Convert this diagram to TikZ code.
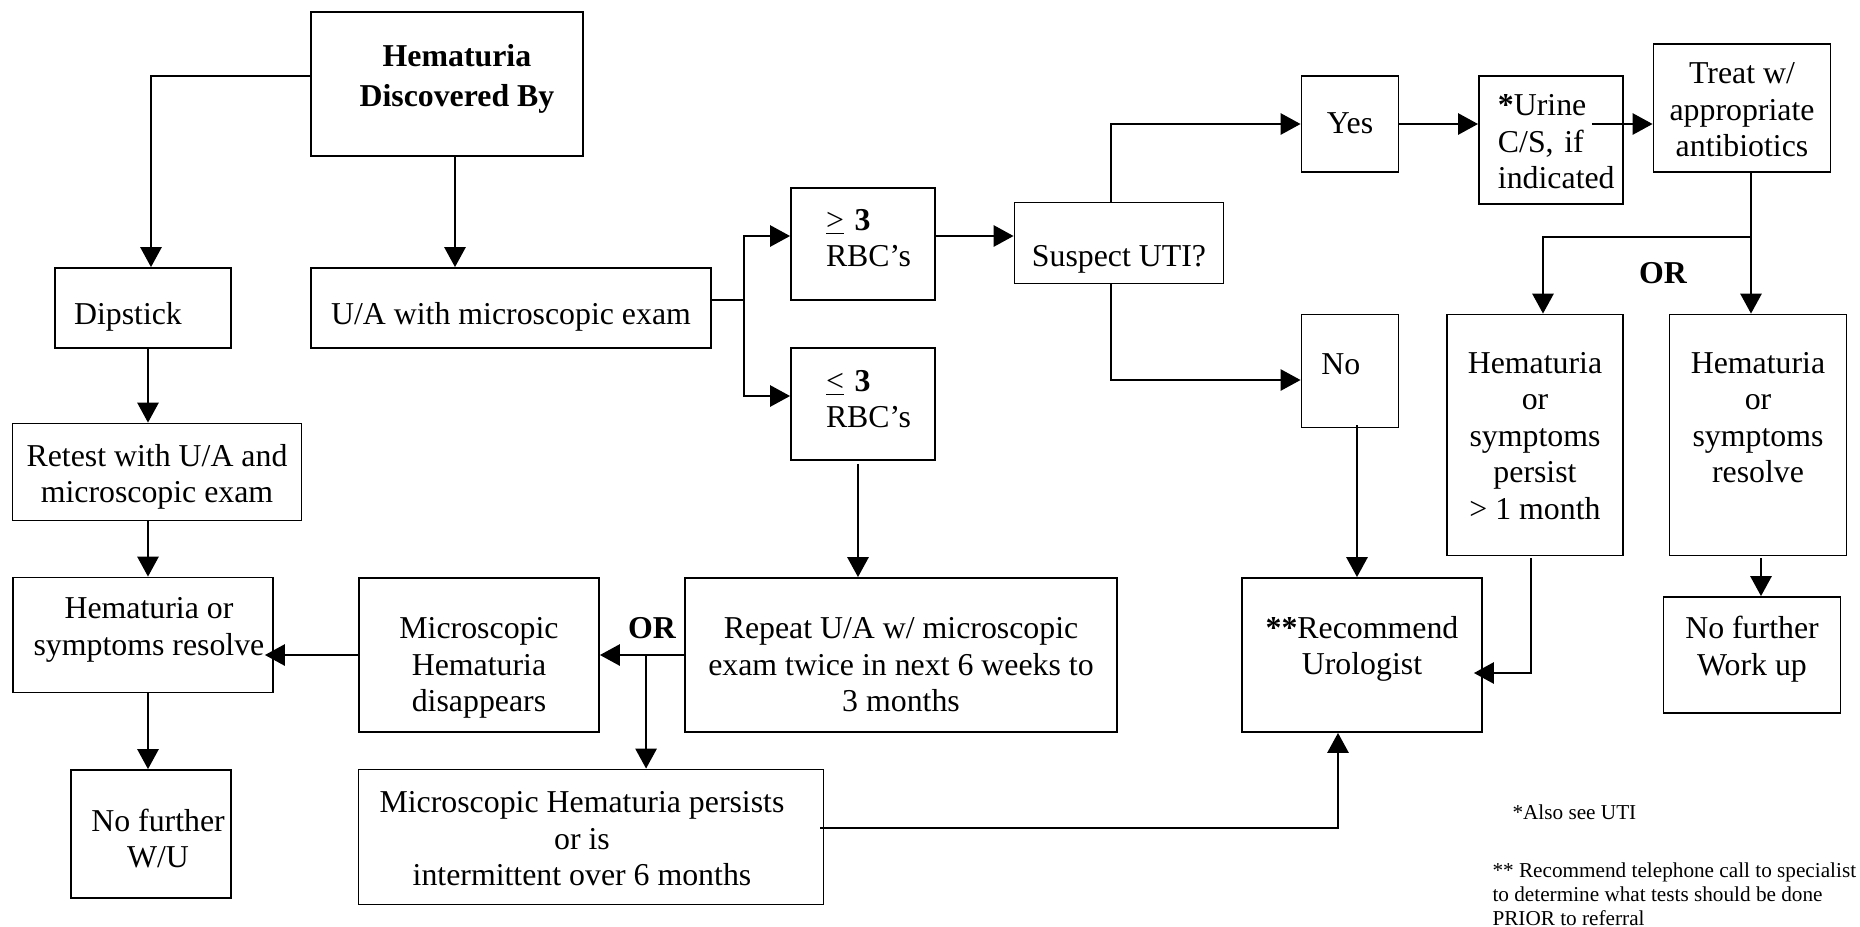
\documentclass[tikz,border=0pt]{standalone}
\usepackage{fontspec}
\setmainfont{Liberation Serif}
\usetikzlibrary{positioning,arrows.meta,calc}

% lower the text of a box by #1 px
\newcommand\lowr[1]{\rule{0pt}{\dimexpr 9.66pt+0.754pt*#1\relax}}

\tikzset{
  box/.style={draw, line width=0.7pt, inner sep=0pt, align=center,
    font=\fontsize{12pt}{13.8pt}\selectfont,
    execute at begin node=\strut, execute at end node=\strut},
  sz/.style 2 args={minimum width=#1*0.377pt, minimum height=#2*0.377pt},
  lift/.style={execute at end node={\rule[-\dimexpr 4.14pt+0.754pt*#1\relax]{0pt}{0pt}}},
  arr/.style={line width=0.7pt, -{Triangle[length=7.5pt,width=8pt]}},
  link/.style={line width=0.7pt},
  ortext/.style={inner sep=0pt, font=\fontsize{12pt}{13.8pt}\selectfont\bfseries},
  note/.style={inner sep=0pt, align=left, font=\fontsize{8pt}{9pt}\selectfont}
}

\begin{document}
\begin{tikzpicture}[x=0.377pt, y=-0.377pt]
  \useasboundingbox (0,0) rectangle (1860,926);

  % left branch
  \node[box, sz={272}{144}, lift=3] (top) at (447,84) {\hspace*{7.5pt}\textbf{Hematuria}\\[1pt]\hspace*{7.5pt}\textbf{Discovered By}};
  \node[box, sz={176}{80}, text width=52pt, inner xsep=7.16pt, align=left] (dip) at (143,308) {\lowr{9}Dipstick};
  \node[box, sz={289}{97}] (ret) at (157,472) {\lowr{5}Retest with U/A and\\microscopic exam};
  \node[box, sz={260}{115}, lift=3] (hem) at (143,635) {\hspace*{4.5pt}Hematuria or\\\hspace*{4.5pt}symptoms resolve};
  \node[box, sz={160}{128}] (nfu) at (151,834) {\lowr{8}\hspace*{5.3pt}No further\\\hspace*{5.3pt}W/U};

  % middle
  \node[box, sz={400}{80}] (ua) at (511,308) {\lowr{9}U/A with microscopic exam};
  \node[box, sz={144}{112}, text width=27.9pt, inner xsep=13.2pt, align=left, lift=3] (ge) at (863,244) {\underline{>} \textbf{3}\\RBC’s};
  \node[box, sz={144}{112}, text width=27.9pt, inner xsep=13.2pt, align=left, lift=2] (le) at (863,404) {\underline{<} \textbf{3}\\RBC’s};
  \node[box, sz={240}{154}] (dis) at (479,655) {\lowr{13}Microscopic\\Hematuria\\disappears};
  \node[box, sz={432}{154}] (rep) at (901,655) {\lowr{13}Repeat U/A w/ microscopic\\exam twice in next 6 weeks to\\3 months};
  \node[box, sz={465}{135}] (pst) at (591,837) {\lowr{5}\hspace*{-6.8pt}Microscopic Hematuria persists\\\hspace*{-6.8pt}or is\\\hspace*{-6.8pt}intermittent over 6 months};
  \node[ortext] (or1) at (652,628) {OR};

  % right branch
  \node[box, sz={209}{81}] (sus) at (1119,243) {\lowr{16}Suspect UTI?};
  \node[box, sz={97}{96}] (yes) at (1350,124) {\lowr{2}Yes};
  \node[box, sz={97}{113}, text width=21.5pt, inner xsep=7.54pt, align=left, lift=4] (no) at (1350,371) {No};
  \node[box, sz={144}{128}, text width=40pt, inner xsep=7.16pt, align=left] (urine) at (1551,140) {\lowr{5}\textbf{*}Urine\\C/S, if\\indicated};
  \node[box, sz={177}{128}] (treat) at (1742,108) {\lowr{5}Treat w/\\appropriate\\antibiotics};
  \node[box, sz={176}{241}] (per) at (1535,435) {\lowr{4}Hematuria\\or\\symptoms\\persist\\> 1 month};
  \node[box, sz={177}{241}, lift=12] (res) at (1758,435) {Hematuria\\or\\symptoms\\resolve};
  \node[box, sz={240}{154}, lift=4] (rec) at (1362,655) {\textbf{**}Recommend\\Urologist};
  \node[box, sz={177}{116}, lift=4] (nfw) at (1752,655) {No further\\Work up};
  \node[ortext] (or2) at (1663,273) {OR};

  % footnotes
  \node[note, anchor=west] (note1) at (1512,812) {*Also see UTI};
  \node[note, anchor=west] (note2) at (1492,894) {** Recommend telephone call to specialist\\to determine what tests should be done\\PRIOR to referral};

  % connectors
  \draw[arr] ($(top.west)+(0,-8)$) -| ($(dip.north)+(8,0)$);
  \draw[arr] ($(top.south)+(8,0)$) coordinate (c2) -- (c2 |- ua.north);
  \draw[link] ($(ua.east)+(0,-8)$) -- ++(32,0) coordinate (fork);
  \draw[arr] (fork) |- ($(ge.west)+(0,-8)$);
  \draw[arr] (fork) |- ($(le.west)+(0,-8)$);
  \draw[arr] ($(ge.east)+(0,-8)$) coordinate (c3) -- (c3 -| sus.west);
  \draw[arr] ($(sus.north)+(-8,0)$) |- (yes.west);
  \draw[arr] ($(sus.south)+(-8,0)$) |- ($(no.west)+(0,9)$);
  \draw[arr] (yes.east) -- (yes.east -| urine.west);
  \draw[arr] ($(urine.east)+(-32,-16)$) coordinate (c4) -- (c4 -| treat.west);
  \draw[arr] ($(treat.south)+(9,0)$) coordinate (c5) -- (c5 |- res.north);
  \draw[arr] ($(c5)+(0,64)$) -| ($(per.north)+(8,0)$);
  \draw[arr] ($(no.south)+(7,-3)$) coordinate (c6) -- (c6 |- rec.north);
  \draw[arr] ($(per.south)+(-4,2)$) |- ($(rec.east)+(-9,18)$);
  \draw[arr] ($(res.south)+(3,2)$) coordinate (c7) -- (c7 |- nfw.north);
  \draw[arr] ($(dip.south)+(5,0)$) coordinate (c8) -- (c8 |- ret.north);
  \draw[arr] (c8 |- ret.south) -- (c8 |- hem.north);
  \draw[arr] (c8 |- hem.south) -- (c8 |- nfu.north);
  \coordinate (c11) at (hem.east |- dis.west);
  \draw[arr] (dis.west) -- ($(c11)+(-9,0)$);
  \draw[arr] (rep.west) -- (rep.west -| dis.east);
  \draw[arr] ($(rep.west)+(-38,0)$) coordinate (c9) -- (c9 |- pst.north);
  \draw[arr] ($(le.south)+(-5,3)$) coordinate (c10) -- (c10 |- rep.north);
  \draw[arr] ($(pst.east)+(-4,-9)$) -| ($(rec.south)+(-24,0)$);
\end{tikzpicture}
\end{document}
